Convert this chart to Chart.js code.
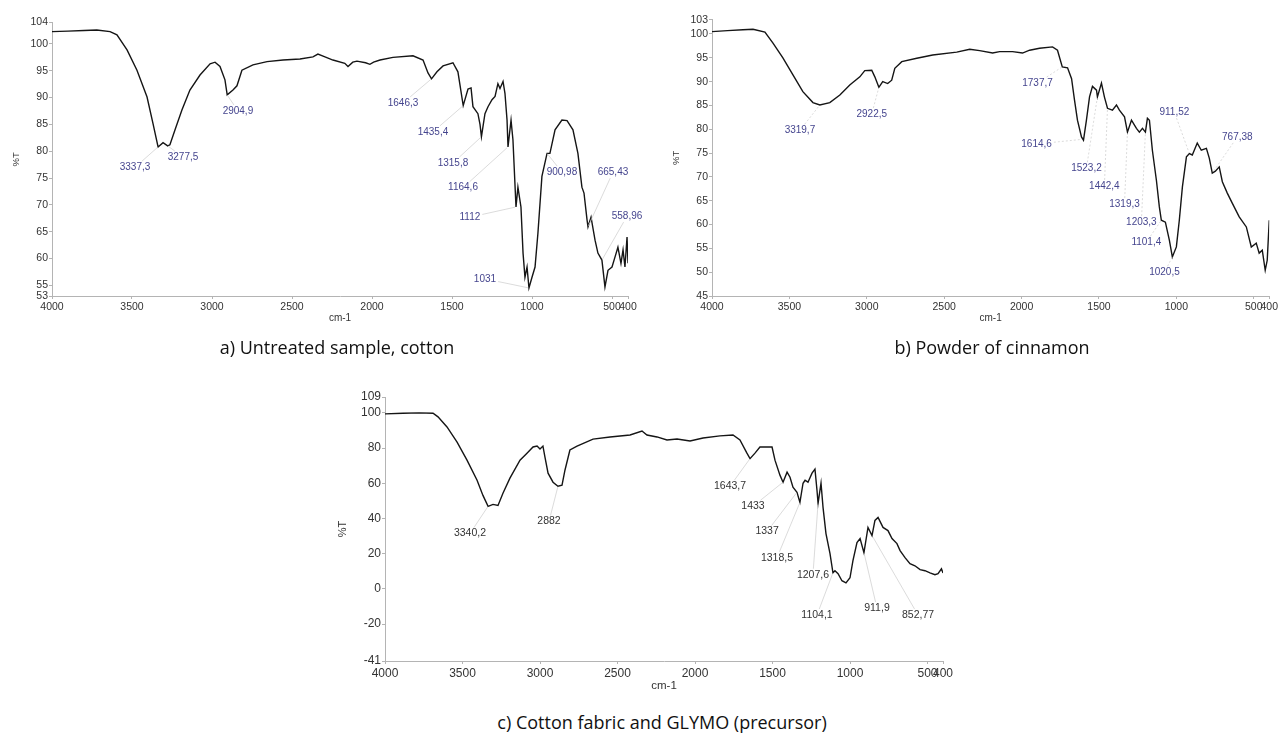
<!DOCTYPE html>
<html>
<head>
<meta charset="utf-8">
<script src="https://cdn.jsdelivr.net/npm/chart.js@4.4.1/dist/chart.umd.min.js"></script>
<style>
  body { margin: 0; background: #fff; width: 1280px; height: 737px; overflow: hidden; position: relative; }
  .box { position: absolute; }
  .cap { position: absolute; width: 500px; text-align: center; font-family: "Open Sans", sans-serif;
         font-size: 18px; line-height: 20px; color: #111; }
</style>
</head>
<body>
<div class="box" style="left:0;top:0"><canvas id="chartA" width="660" height="340"></canvas></div>
<div class="box" style="left:660px;top:0"><canvas id="chartB" width="620" height="340"></canvas></div>
<div class="box" style="left:333px;top:370px"><canvas id="chartC" width="627" height="330"></canvas></div>
<div class="cap" style="left:87px;top:337px">a) Untreated sample, cotton</div>
<div class="cap" style="left:742px;top:337px">b) Powder of cinnamon</div>
<div class="cap" style="left:412px;top:712px">c) Cotton fabric and GLYMO (precursor)</div>
<script>
// x axis ticks (wavenumber, cm-1), same for all three spectra
const xTicks = [4000, 3500, 3000, 2500, 2000, 1500, 1000, 500, 400];

// a) untreated cotton
const wnA = [4000, 3900, 3800, 3720, 3637, 3594, 3531, 3469, 3406, 3369, 3337, 3306, 3277, 3263, 3231, 3188,
  3138, 3075, 3012, 2981, 2950, 2919, 2905, 2869, 2844, 2813, 2744, 2656, 2556, 2450, 2369, 2338, 2294, 2244,
  2170, 2150, 2120, 2094, 2040, 2013, 1990, 1950, 1869, 1744, 1681, 1650, 1628, 1594, 1556, 1494, 1463, 1430,
  1400, 1381, 1369, 1338, 1325, 1316, 1294, 1275, 1250, 1231, 1213, 1200, 1181, 1169, 1156, 1150, 1131, 1119,
  1100, 1088, 1069, 1056, 1044, 1031, 1019, 1000, 981, 963, 938, 906, 888, 856, 813, 781, 744, 713, 688, 675,
  656, 650, 631, 606, 588, 563, 544, 525, 500, 481, 463, 444, 431, 419, 406, 400];
const tA = [102.3, 102.4, 102.5, 102.6, 102.3, 101.7, 98.9, 95.1, 90.1, 85.2, 80.8, 81.6, 81.0, 81.2, 84, 87.7,
  91.4, 94.2, 96.3, 96.6, 95.8, 93.3, 90.5, 91.4, 92.2, 95.1, 96.1, 96.7, 97, 97.2, 97.6, 98.1, 97.6, 97,
  96.4, 95.8, 96.6, 96.8, 96.5, 96.2, 96.6, 97, 97.5, 97.8, 97, 94.6, 93.5, 94.8, 95.9, 96.5, 94.8, 88.5,
  91.6, 91.8, 88.3, 87, 85, 82.7, 87, 88.3, 89.6, 90.2, 92.6, 91.7, 93, 90.8, 85.8, 80.8, 85.8, 82.1,
  69.6, 73.3, 69.6, 61, 56.5, 58.4, 54.5, 56.5, 58.4, 64.7, 75.3, 79.6, 79.6, 84, 85.8, 85.7, 84, 79.6, 73.3, 72.2,
  67.2, 65.9, 67.7, 63.4, 61, 59.7, 54.7, 57.8, 58.4, 60.3, 62.1, 59.1, 61.6, 58.4, 64, 59.1];
const yTicksA = [53, 55, 60, 65, 70, 75, 80, 85, 90, 95, 100, 104];
// [label, peak cm-1, peak %T, label cm-1, label %T]
const peaksA = [
  ['3337,3', 3337, 80.8, 3481, 77], ['3277,5', 3277, 81, 3181, 78.9], ['2904,9', 2905, 90.5, 2838, 87.5],
  ['1646,3', 1628, 93.5, 1806, 89], ['1435,4', 1430, 88.5, 1619, 83.6], ['1315,8', 1316, 82.7, 1494, 77.8],
  ['1164,6', 1150, 80.8, 1431, 73.2], ['1112', 1100, 69.6, 1388, 67.7], ['1031', 1019, 54.5, 1294, 56.2],
  ['900,98', 906, 79.6, 813, 76.1], ['665,43', 650, 65.9, 494, 76.1], ['558,96', 563, 59.7, 406, 67.9]
];

// b) cinnamon powder
const wnB = [4000, 3900, 3800, 3735, 3658, 3606, 3542, 3477, 3413, 3348, 3303, 3239, 3174, 3110, 3045, 3013,
  2968, 2948, 2922, 2897, 2865, 2839, 2819, 2774, 2677, 2574, 2419, 2335, 2271, 2187, 2142, 2058, 1994, 1948,
  1884, 1800, 1768, 1737, 1703, 1677, 1658, 1639, 1613, 1600, 1581, 1561, 1542, 1516, 1510, 1484, 1465, 1445,
  1413, 1387, 1368, 1335, 1316, 1290, 1258, 1239, 1219, 1200, 1187, 1174, 1155, 1129, 1110, 1097, 1071, 1045,
  1026, 1000, 981, 961, 935, 916, 897, 865, 839, 806, 787, 768, 748, 723, 703, 671, 639, 594, 548, 516, 484,
  465, 445, 426, 413, 400];
const tB = [100.5, 100.7, 100.9, 101, 100.4, 98.1, 95, 91.4, 87.9, 85.6, 85.1, 85.6, 87.2, 89.3, 91, 92.3,
  92.4, 91, 88.8, 90, 89.6, 90.3, 92.8, 94.2, 94.9, 95.6, 96.2, 96.8, 96.5, 96, 96.3, 96.3, 96, 96.6,
  97, 97.3, 96.6, 93.1, 92.9, 90.6, 86.1, 81.9, 78.4, 77.7, 81.9, 86.8, 89, 88.2, 86.8, 89.7, 86.8, 84.4,
  84, 85.1, 84, 82.6, 79.4, 81.9, 80.2, 79.4, 80.2, 79.4, 82.3, 81.9, 75.6, 69.3, 63.7, 60.9, 60.5, 56.7,
  53.2, 55.3, 60.9, 67.9, 74.2, 74.9, 74.6, 77.1, 75.6, 76, 73.9, 70.8, 71.2, 72.1, 69, 66.6, 64.5, 61.6, 59.5, 55.3, 56.1,
  54, 54.6, 50.4, 52.5, 60.9];
const yTicksB = [45, 50, 55, 60, 65, 70, 75, 80, 85, 90, 95, 100, 103];
const peaksB = [
  ['3319,7', 3303, 85.1, 3432, 79.8], ['2922,5', 2922, 88.8, 2968, 83.2], ['1737,7', 1737, 93.1, 1897, 89.7],
  ['1614,6', 1605, 77.9, 1903, 76.9], ['1523,2', 1510, 86.8, 1581, 71.8], ['1442,4', 1445, 84.4, 1465, 68.1],
  ['1319,3', 1316, 79.4, 1335, 64.3], ['1203,3', 1200, 79.4, 1226, 60.5], ['1101,4', 1097, 60.9, 1194, 56.3],
  ['1020,5', 1026, 53.2, 1077, 50], ['911,52', 916, 74.9, 1013, 83.6], ['767,38', 768, 70.8, 606, 78.4]
];

// c) cotton fabric + GLYMO
const wnC = [4000, 3884, 3780, 3690, 3658, 3600, 3535, 3471, 3406, 3368, 3335, 3303, 3271, 3239, 3194, 3129,
  3084, 3045, 3019, 3000, 2981, 2968, 2948, 2916, 2884, 2858, 2839, 2807, 2761, 2658, 2548, 2419, 2342, 2310,
  2245, 2181, 2116, 2032, 1948, 1839, 1755, 1710, 1665, 1645, 1613, 1581, 1503, 1484, 1452, 1432, 1406, 1387,
  1368, 1342, 1323, 1303, 1290, 1271, 1245, 1226, 1213, 1206, 1187, 1174, 1155, 1129, 1110, 1097, 1077, 1052,
  1026, 1000, 981, 955, 935, 910, 884, 858, 839, 819, 787, 755, 729, 697, 677, 645, 613, 581, 548, 516, 484,
  452, 432, 410, 400];
const tC = [99.4, 99.8, 100, 99.8, 97.7, 92, 83.4, 73.1, 61.7, 53.1, 46.9, 48, 47.4, 54.3, 62.9, 73.1,
  77.1, 80.6, 81.1, 79.4, 81.1, 74.9, 65.7, 60.6, 58.3, 58.9, 67.4, 78.9, 81.1, 85.1, 86.3, 87.4, 89.7, 87.4,
  86.3, 84.6, 85.1, 84, 85.7, 86.9, 87.4, 84.6, 77.1, 74, 77.1, 80.6, 80.6, 73.1, 64.6, 60.6, 66.3, 63.4,
  57.7, 54.9, 49.1, 60, 61.7, 60.6, 65.7, 68, 56, 48.6, 60, 46.3, 31.4, 20, 9.1, 10.3, 8.6, 4.6,
  3.4, 6.3, 16, 26.3, 28.6, 20.6, 34.9, 30.3, 38.9, 40.6, 34.9, 33.1, 28.6, 25.7, 21.7, 17.7, 14.3, 13.1, 10.9, 10.3, 9.1,
  8, 8.6, 11.4, 9];
const yTicksC = [-41, -20, 0, 20, 40, 60, 80, 100, 109];
const peaksC = [
  ['3340,2', 3335, 46.9, 3452, 31.4], ['2882', 2884, 58.3, 2942, 38.3], ['1643,7', 1645, 74, 1774, 58.3],
  ['1433', 1432, 60.6, 1626, 46.9], ['1337', 1342, 54.9, 1535, 32.6], ['1318,5', 1323, 49.1, 1471, 17.7],
  ['1207,6', 1206, 48.6, 1239, 8], ['1104,1', 1110, 9.1, 1213, -14.9], ['911,9', 910, 20.6, 826, -10.9],
  ['852,77', 858, 30.3, 561, -14.9]
];

// draws peak labels with faint leader lines to the peak
function peakPlugin(list, font, color, dash) {
  return {
    id: 'peaks',
    afterDatasetsDraw(chart) {
      const { ctx, scales: { x, y } } = chart;
      ctx.save();
      ctx.font = font;
      ctx.textAlign = 'center';
      ctx.textBaseline = 'middle';
      list.forEach(([txt, pw, pt, lw, lt]) => {
        const px = x.getPixelForValue(pw), py = y.getPixelForValue(pt);
        const lx = x.getPixelForValue(lw), ly = y.getPixelForValue(lt);
        const hw = ctx.measureText(txt).width / 2 + 2, hh = 6;
        const dx = px - lx, dy = py - ly;
        const s = Math.min(dx ? hw / Math.abs(dx) : Infinity, dy ? hh / Math.abs(dy) : Infinity);
        if (s < 1) {
          ctx.strokeStyle = '#d2d2d2';
          ctx.lineWidth = 0.8;
          ctx.setLineDash(dash);
          ctx.beginPath();
          ctx.moveTo(lx + dx * s, ly + dy * s);
          ctx.lineTo(px - dx * 0.02, py - dy * 0.02);
          ctx.stroke();
        }
        ctx.fillStyle = color;
        ctx.fillText(txt, lx, ly);
      });
      ctx.restore();
    }
  };
}

function makeChart(id, wn, t, yTicks, peaks, o) {
  const axisCol = '#b4b4b4';
  const tickFont = { family: 'Arial', size: o.tickSize };
  return new Chart(document.getElementById(id), {
    type: 'line',
    data: {
      datasets: [{
        data: wn.map((w, i) => ({ x: w, y: t[i] })),
        borderColor: '#151515',
        borderWidth: 1.4,
        pointRadius: 0,
        tension: 0,
        fill: false
      }]
    },
    options: {
      responsive: false,
      animation: false,
      layout: { padding: { left: 0, top: o.padTop, right: o.padRight, bottom: 0 } },
      plugins: { legend: { display: false }, tooltip: { enabled: false } },
      scales: {
        x: {
          type: 'linear', reverse: true, min: 400, max: 4000,
          afterBuildTicks: s => { s.ticks = xTicks.map(v => ({ value: v })); },
          afterFit: s => { s.height = o.xHeight; },
          border: { color: axisCol, width: 1 },
          grid: { drawOnChartArea: false, color: axisCol, tickLength: 3 },
          ticks: { autoSkip: false, maxRotation: 0, color: '#333', font: tickFont, padding: o.xTickPad,
                   callback: v => String(v) },
          title: { display: true, text: 'cm-1', color: '#333', font: { family: 'Arial', size: o.tickSize - 0.5 },
                   padding: { top: 0, bottom: o.xTitlePad } }
        },
        y: {
          type: 'linear', min: yTicks[0], max: yTicks[yTicks.length - 1],
          afterBuildTicks: s => { s.ticks = yTicks.map(v => ({ value: v })); },
          afterFit: s => { s.width = 52; },
          border: { color: axisCol, width: 1 },
          grid: { drawOnChartArea: false, color: axisCol, tickLength: 3 },
          ticks: { autoSkip: false, color: '#333', font: tickFont, padding: 1, callback: v => String(v) },
          title: { display: true, text: '%T', color: '#333', font: { family: 'Arial', size: o.tickSize - 1 },
                   padding: { top: o.yTitlePad, bottom: 0 } }
        }
      }
    },
    plugins: [peakPlugin(peaks, o.peakFont, o.peakColor, o.dash)]
  });
}

makeChart('chartA', wnA, tA, yTicksA, peaksA, {
  tickSize: 10.5, padTop: 22.5, padRight: 32, xHeight: 44, xTickPad: 2, xTitlePad: 16, yTitlePad: 11,
  peakFont: '10px Arial', peakColor: '#45458e', dash: []
});
makeChart('chartB', wnB, tB, yTicksB, peaksB, {
  tickSize: 10.5, padTop: 19.7, padRight: 10, xHeight: 44, xTickPad: 2, xTitlePad: 16, yTitlePad: 11,
  peakFont: '10px Arial', peakColor: '#45458e', dash: [2, 2]
});
makeChart('chartC', wnC, tC, yTicksC, peaksC, {
  tickSize: 12, padTop: 27, padRight: 17, xHeight: 39, xTickPad: 2, xTitlePad: 7, yTitlePad: 3,
  peakFont: '10.5px Arial', peakColor: '#333', dash: []
});
</script>
</body>
</html>
